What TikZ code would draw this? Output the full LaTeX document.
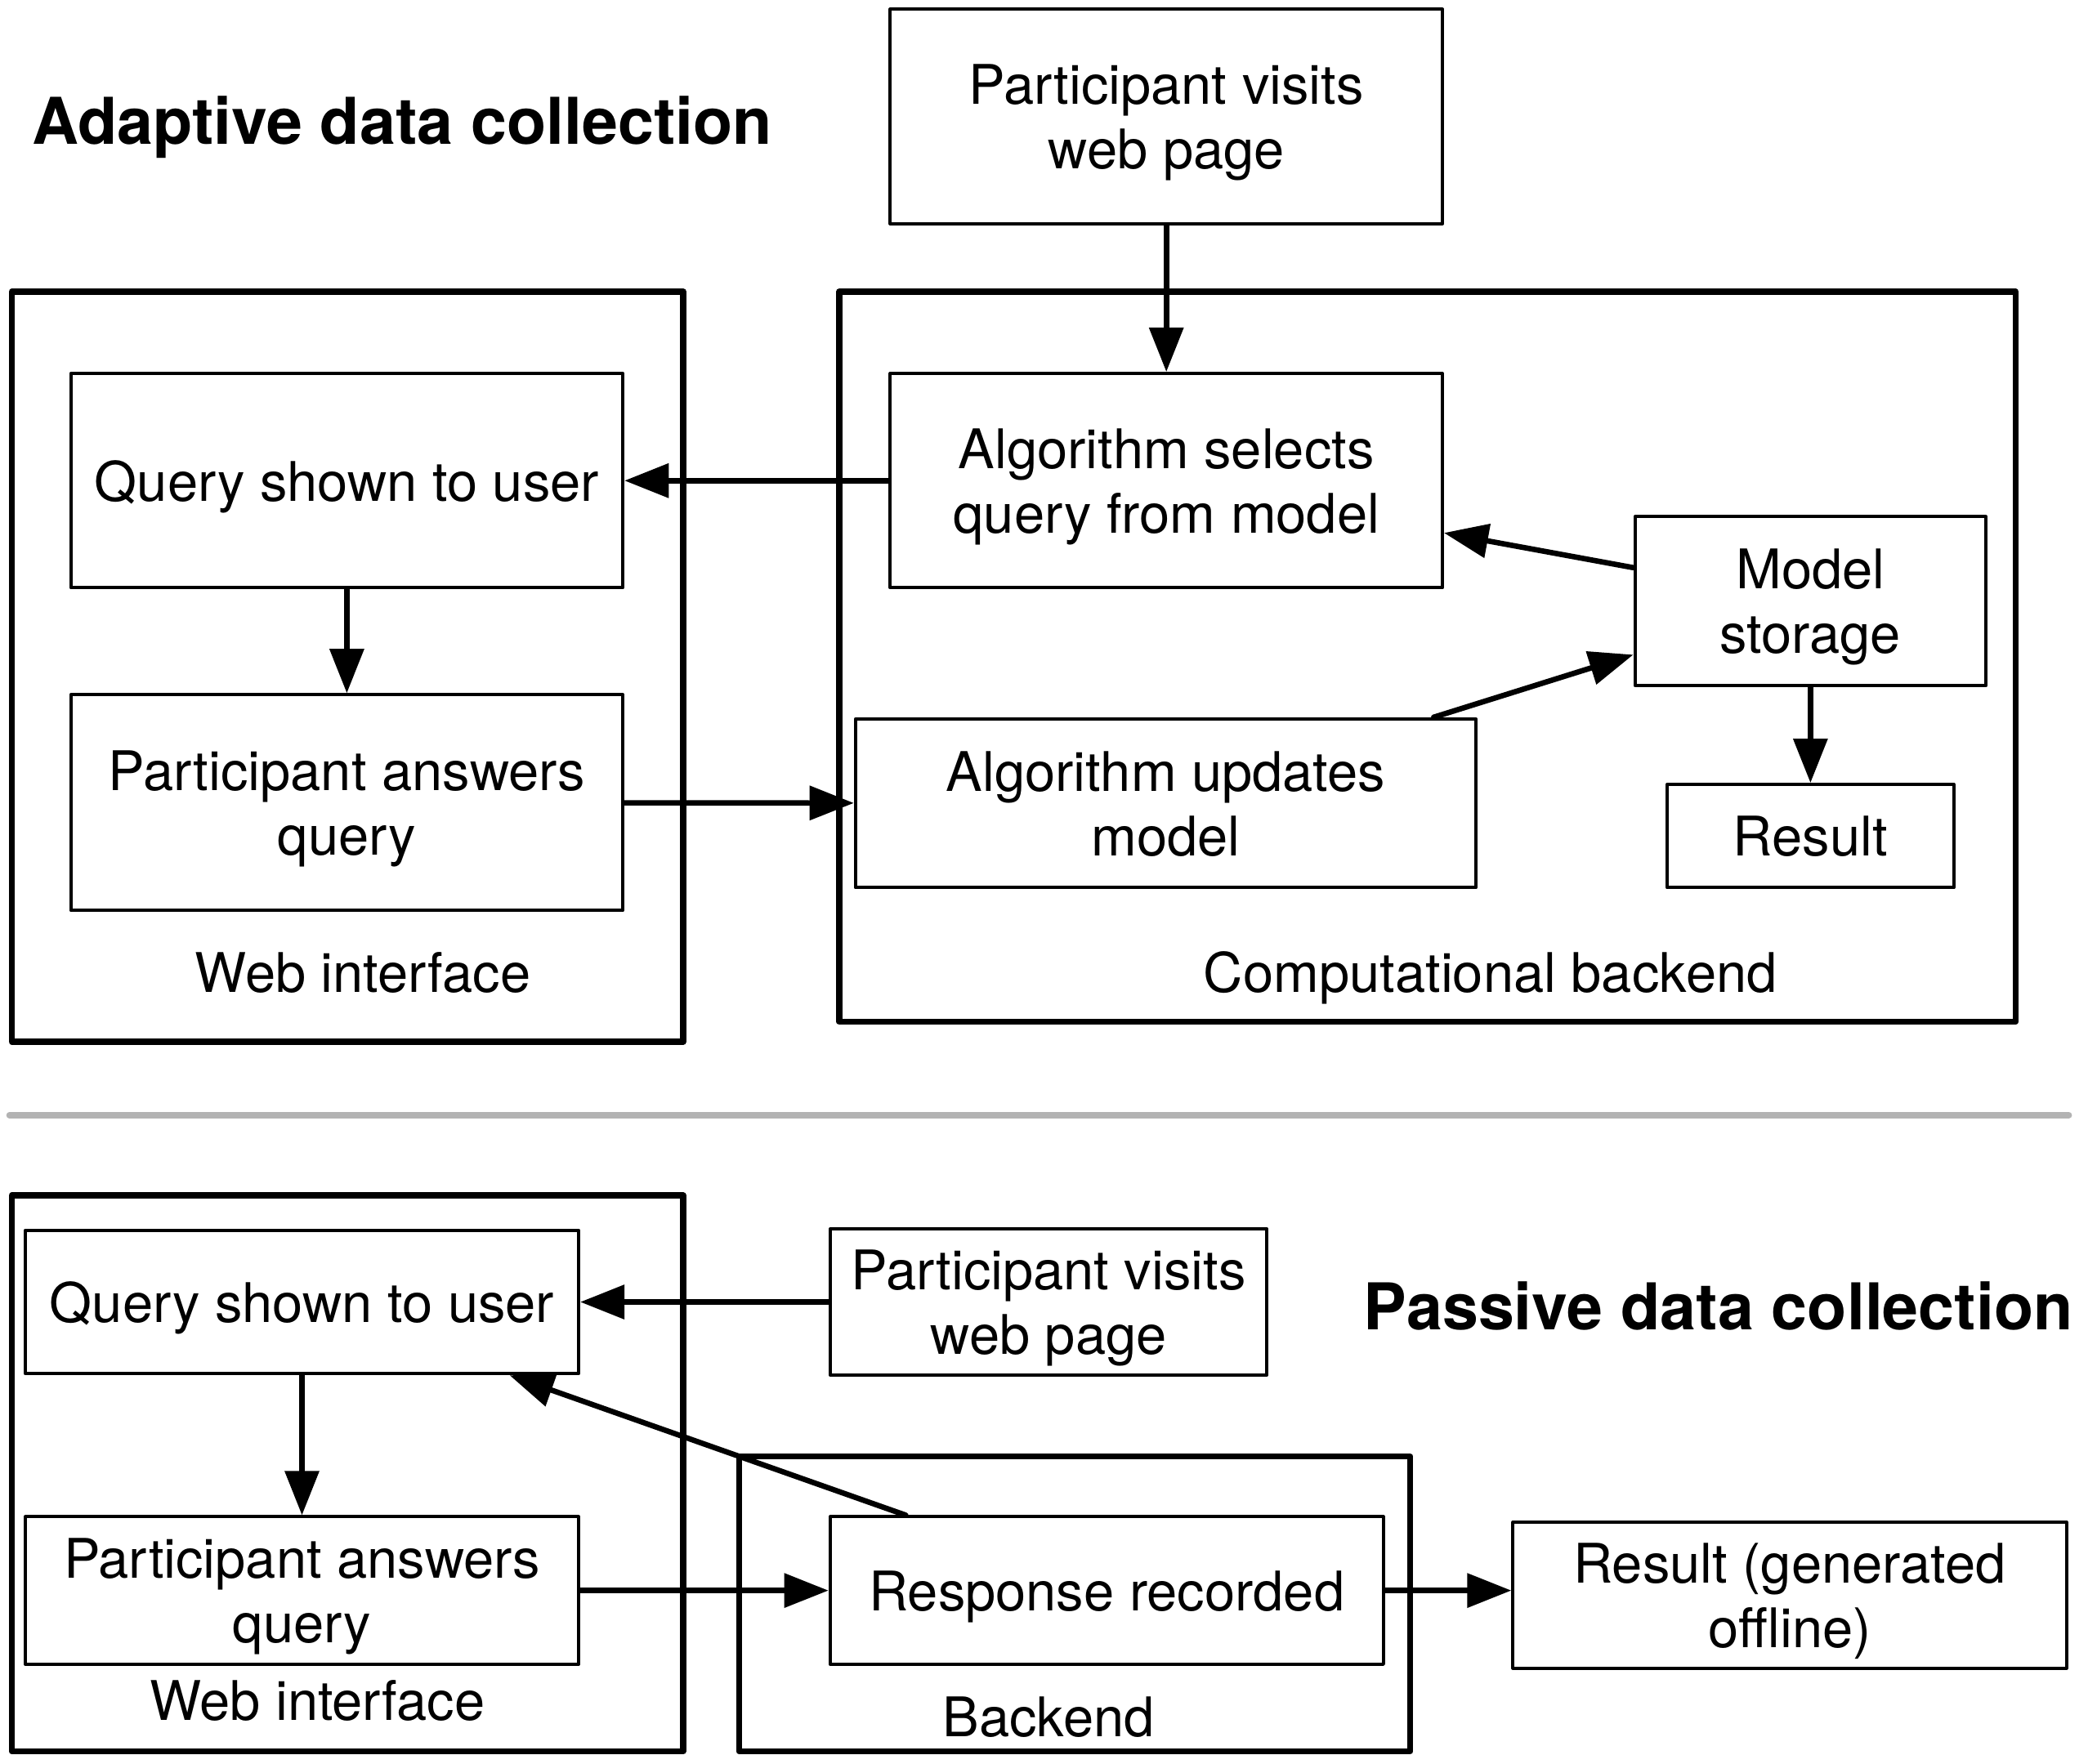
\documentclass[tikz,border=0pt]{standalone}
\usepackage{fontspec}
\setmainfont{TeX Gyre Heros}
\usetikzlibrary{arrows.meta, positioning}
\definecolor{rulegray}{RGB}{179,179,179}

\begin{document}
\begin{tikzpicture}[x=0.01cm, y=-0.01cm, ->, >={Triangle[length=3.3mm, width=2.5mm]}, line width=1.15pt, line cap=round, line join=round, align=center, font=\fontsize{11.6}{13.7}\selectfont,
	every node/.append style={text depth=0pt},
	box/.style={draw, line width=0.7pt, inner sep=0pt},
	frame/.style={draw, line width=1.3pt, inner sep=0pt},
	heading/.style={inner sep=0pt, font=\bfseries\fontsize{13.7}{16}\selectfont}]

	\useasboundingbox (0,0) rectangle (1566,1317);

	% adaptive
	\node[heading, anchor=west]	(title)	at	(22, 90)	{Adaptive data collection};
	\node[box, minimum width=4.12cm, minimum height=1.6cm]	(visit)	at	(871, 87)	{Participant visits\\web page};
	\node[frame, minimum width=5.01cm, minimum height=5.6cm]	(web)	at	(259.5, 498)	{};
	\node[frame, minimum width=8.78cm, minimum height=5.45cm]	(comp)	at	(1066, 490.5)	{};
	\node[box, minimum width=4.12cm, minimum height=1.6cm]	(query)	at	(259, 359)	{Query shown to user};
	\node[box, minimum width=4.12cm, minimum height=1.61cm]	(answer)	at	(259, 599.5)	{Participant answers\\query};
	\node	(weblabel)	at	(271, 726)	{Web interface};
	\node[box, minimum width=4.12cm, minimum height=1.6cm]	(select)	at	(871, 359)	{Algorithm selects\\query from model};
	\node[box, minimum width=2.62cm, minimum height=1.26cm]	(storage)	at	(1352, 449)	{Model\\storage};
	\node[box, minimum width=4.63cm, minimum height=1.26cm]	(update)	at	(870.5, 600)	{Algorithm updates\\model};
	\node[box, minimum width=2.14cm, minimum height=0.77cm]	(result)	at	(1352, 624.5)	{Result};
	\node	(complabel)	at	(1113, 726)	{Computational backend};

	\draw (visit) -- (select);
	\draw (select) -- (query);
	\draw (query) -- (answer);
	\draw (answer) -- (update);
	\draw ([yshift=0.25cm]storage.west) -- ([yshift=-0.39cm]select.east);
	\draw ([xshift=2cm]update.north) -- ([yshift=-0.4cm]storage.west);
	\draw (storage) -- (result);

	\draw[-, rulegray, line width=1.3pt] (7, 833) -- (1545, 833);

	% passive
	\node[frame, minimum width=5.01cm, minimum height=4.15cm]	(web2)	at	(259.5, 1100.5)	{};
	\node[box, minimum width=4.13cm, minimum height=1.07cm]	(query2)	at	(225.5, 972.5)	{Query shown to user};
	\node[box, minimum width=4.13cm, minimum height=1.1cm]	(answer2)	at	(225.5, 1188)	{Participant answers\\query};
	\node	(weblabel2)	at	(237, 1270)	{Web interface};
	\node[box, minimum width=3.26cm, minimum height=1.09cm]	(visit2)	at	(783, 972.5)	{Participant visits\\web page};
	\node[heading, anchor=east]	(title2)	at	(1550, 975)	{Passive data collection};
	\node[frame, minimum width=5.01cm, minimum height=2.2cm]	(back)	at	(802.5, 1198)	{};
	\node[box, minimum width=4.13cm, minimum height=1.1cm]	(record)	at	(826.5, 1188)	{Response recorded};
	\node	(backlabel)	at	(783, 1282)	{Backend};
	\node[box, minimum width=4.13cm, minimum height=1.09cm]	(result2)	at	(1336.5, 1191.5)	{Result (generated\\offline)};

	\draw (visit2) -- (query2);
	\draw (query2) -- (answer2);
	\draw (answer2) -- (record);
	\draw ([xshift=-1.5cm]record.north) -- ([xshift=1.55cm]query2.south);
	\draw (record.east) -- (record.east -| result2.west);

\end{tikzpicture}
\end{document}
